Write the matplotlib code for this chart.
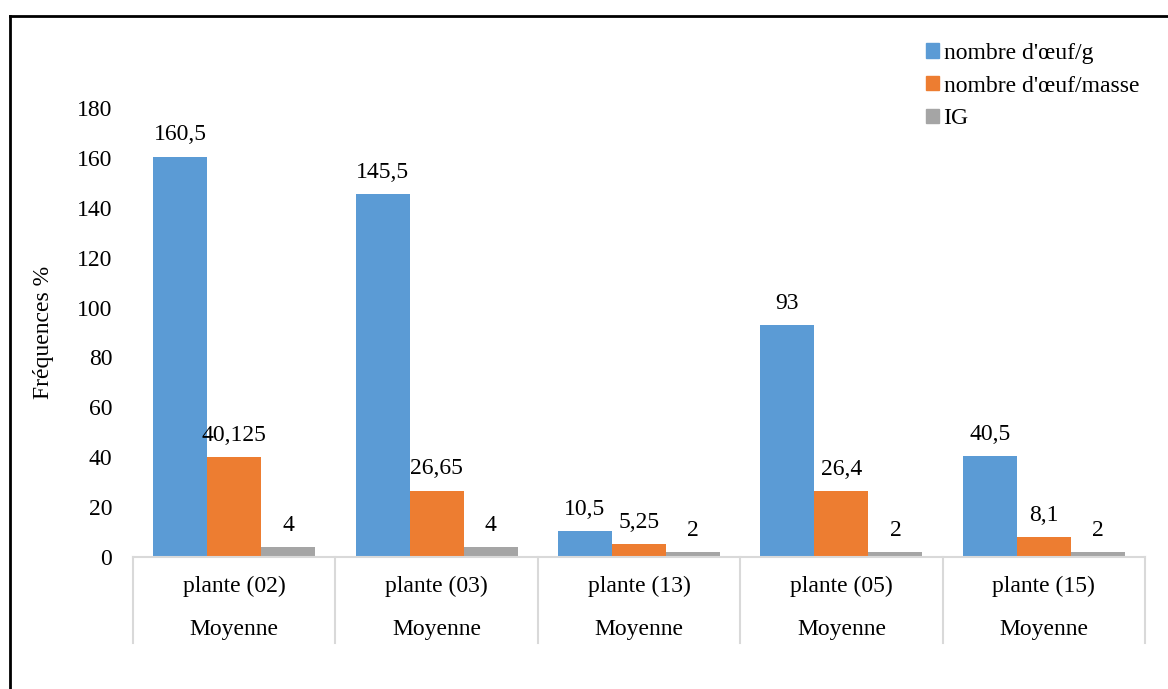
import matplotlib.pyplot as plt
from matplotlib.lines import Line2D
from matplotlib.patches import Patch
import numpy as np

plt.rcParams['font.family'] = ['Liberation Serif', 'DejaVu Serif']

# Données
plantes = ["plante (02)", "plante (03)", "plante (13)", "plante (05)", "plante (15)"]
groupe = "Moyenne"
oeuf_g = [160.5, 145.5, 10.5, 93, 40.5]
oeuf_masse = [40.125, 26.65, 5.25, 26.4, 8.1]
ig = [4, 4, 2, 2, 2]
etiq_g = ["160,5", "145,5", "10,5", "93", "40,5"]
etiq_masse = ["40,125", "26,65", "5,25", "26,4", "8,1"]
etiq_ig = ["4", "4", "2", "2", "2"]
series = ["nombre d'œuf/g", "nombre d'œuf/masse", "IG"]
couleurs = ["#5B9BD5", "#ED7D31", "#A5A5A5"]

W, H = 1168, 689
fs = 17
fig = plt.figure(figsize=(W / 100, H / 100), dpi=100)
ax = fig.add_axes([133 / W, 1 - 557 / H, (1145 - 133) / W, (557 - 108) / H])

x = np.arange(len(plantes))
larg = 0.267
vals = [oeuf_g, oeuf_masse, ig]
etiqs = [etiq_g, etiq_masse, etiq_ig]
for i in range(3):
    pos = x + (i - 1) * larg
    ax.bar(pos, vals[i], width=larg, color=couleurs[i], label=series[i])
    for p, v, t in zip(pos, vals[i], etiqs[i]):
        ax.text(p, v + 4.5, t, ha='center', va='bottom', fontsize=fs)

ax.set_xlim(-0.5, len(plantes) - 0.5)
ax.set_ylim(0, 180)
ax.set_yticks(range(0, 181, 20))
ax.tick_params(axis='y', length=0, labelsize=fs, pad=15)
ax.set_xticks([])
for s in ['top', 'right', 'left']:
    ax.spines[s].set_visible(False)
ax.spines['bottom'].set_color('#D9D9D9')
ax.spines['bottom'].set_linewidth(1.5)
ax.set_ylabel("Fréquences %", fontsize=fs, labelpad=16)

# étiquettes à deux niveaux
trans = ax.get_xaxis_transform()
y_bas = -(643 - 557) / (557 - 108)
for k in range(len(plantes) + 1):
    ax.add_line(Line2D([k - 0.5, k - 0.5], [0, y_bas], transform=trans,
                       color='#D9D9D9', lw=1.5, clip_on=False))
for k, nom in enumerate(plantes):
    ax.text(k, -(586 - 557) / (557 - 108), nom, transform=trans,
            ha='center', va='center', fontsize=fs)
    ax.text(k, -(629 - 557) / (557 - 108), groupe, transform=trans,
            ha='center', va='center', fontsize=fs)

poignees = [Patch(color=c) for c in couleurs]
fig.legend(poignees, series, loc='upper left', bbox_to_anchor=(914 / W, 1 - 31 / H),
           frameon=False, fontsize=fs, handlelength=0.55, handleheight=0.55,
           handletextpad=0.2, labelspacing=0.5, borderpad=0)

# cadre
fig.add_artist(Line2D([10 / W, 10 / W], [0, 1 - 16 / H], color='black', lw=2))
fig.add_artist(Line2D([10 / W, 1], [1 - 16 / H, 1 - 16 / H], color='black', lw=2))

fig.savefig("out.png", dpi=100)
